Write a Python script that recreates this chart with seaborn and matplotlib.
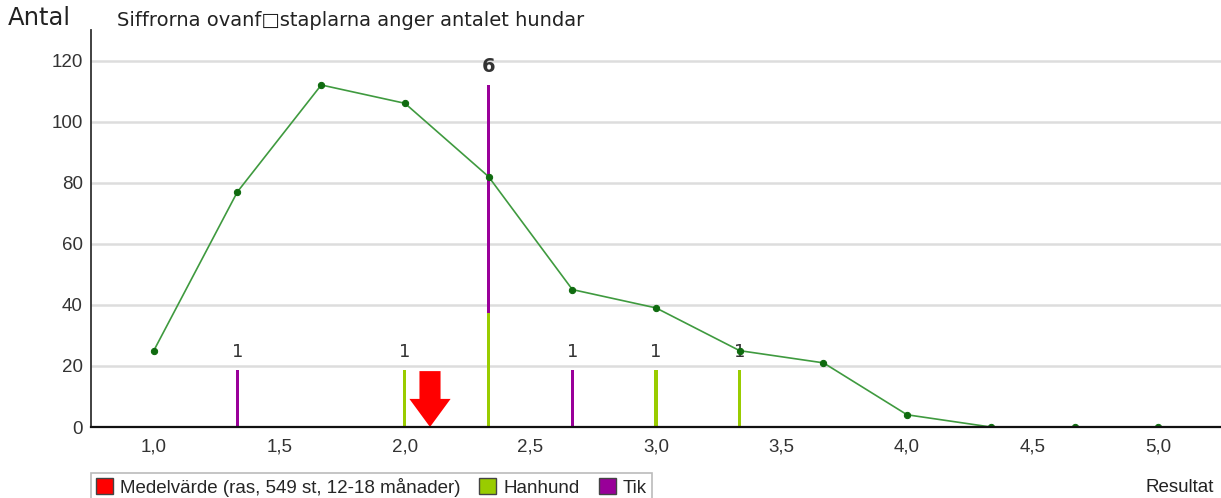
import matplotlib
matplotlib.use("Agg")
import matplotlib.pyplot as plt
from matplotlib.patches import Patch, Polygon
import pandas as pd
import seaborn as sns

# Fördelning av resultat (linje) och hundar (staplar)
resultat = [1.0, 1.333, 1.667, 2.0, 2.333, 2.667, 3.0, 3.333, 3.667, 4.0, 4.333, 4.667, 5.0]
antal = [25, 77, 112, 106, 82, 45, 39, 25, 21, 4, 0, 0, 0]

stapel_x = [1.333, 2.0, 2.333, 2.667, 3.0, 3.333]
hanhund = [0, 1, 2, 0, 1, 1]
tik = [1, 0, 4, 1, 0, 0]
medelvarde = 2.1

xticks = [1.0, 1.5, 2.0, 2.5, 3.0, 3.5, 4.0, 4.5, 5.0]
xticklabels = ["1,0", "1,5", "2,0", "2,5", "3,0", "3,5", "4,0", "4,5", "5,0"]
yticks = [0, 20, 40, 60, 80, 100, 120]

sns.set_theme(style="white")
plt.rcParams["font.family"] = ["Liberation Sans", "DejaVu Sans"]

fig = plt.figure(figsize=(12.21, 4.98), dpi=100)
ax = fig.add_axes([91 / 1221, 1 - 427 / 498, 1 - 91 / 1221, (427 - 30) / 498])

df = pd.DataFrame({"Resultat": resultat, "Antal": antal})
sns.lineplot(data=df, x="Resultat", y="Antal", ax=ax, color="#3f9a3f", linewidth=1.2,
             marker="o", markersize=4.5, markerfacecolor="#0f6b0f", markeredgecolor="#0f6b0f",
             zorder=4)

# staplar: antal hundar skalat så att 6 hundar = 112
skala = 112 / 6
han_h = [h * skala for h in hanhund]
tik_h = [t * skala for t in tik]
ax.bar(stapel_x, han_h, width=0.012, color="#99cc00", linewidth=0, zorder=3)
ax.bar(stapel_x, tik_h, width=0.012, bottom=han_h, color="#990099", linewidth=0, zorder=3)
for x, h, t in zip(stapel_x, hanhund, tik):
    n = h + t
    if n == 0:
        continue
    top = n * skala
    ax.text(x, top + 3, str(n), ha="center", va="bottom", color="#333333",
            fontsize=14 if n > 1 else 13, fontweight="bold" if n > 1 else "normal",
            family=["DejaVu Sans"])

# medelvärde pil
sw, hw, topp, hl = 0.042, 0.082, 18.3, 9.2
pil = Polygon([(medelvarde - sw, topp), (medelvarde + sw, topp), (medelvarde + sw, hl),
               (medelvarde + hw, hl), (medelvarde, 0), (medelvarde - hw, hl),
               (medelvarde - sw, hl)], closed=True, facecolor="#ff0000", edgecolor="none",
              zorder=5)
ax.add_patch(pil)

ax.set_xlim(0.75, 5.25)
ax.set_ylim(0, 130)
ax.set_xticks(xticks)
ax.set_xticklabels(xticklabels)
ax.set_yticks(yticks)
ax.tick_params(axis="x", direction="in", length=4, width=1, color="#222222", labelsize=13.5, pad=8)
ax.tick_params(axis="y", length=0, labelsize=13.5, pad=6)
for lab in ax.get_xticklabels() + ax.get_yticklabels():
    lab.set_color("#333333")
for y in yticks[1:]:
    ax.axhline(y, color="#dddddd", linewidth=1.8, zorder=1)
ax.set_xlabel("")
ax.set_ylabel("")
for s in ["top", "right"]:
    ax.spines[s].set_visible(False)
ax.spines["left"].set_color("#333333")
ax.spines["left"].set_linewidth(1.3)
ax.spines["bottom"].set_color("#111111")
ax.spines["bottom"].set_linewidth(1.6)
ax.spines["left"].set_zorder(6)
ax.spines["bottom"].set_zorder(6)

fig.text(8 / 1221, 1 - 18 / 498, "Antal", fontsize=17.5, color="#222222", va="center",
         family=["DejaVu Sans"])
fig.text(117 / 1221, 1 - 20 / 498, "Siffrorna ovanf\u25a1staplarna anger antalet hundar",
         fontsize=14, color="#222222", va="center", family=["DejaVu Sans"])
fig.text(1180 / 1221, 1 - 487 / 498, "Resultat", fontsize=13.5, color="#222222",
         ha="center", va="center")

handles = [Patch(facecolor="#ff0000", edgecolor="#444444", label="Medelvärde (ras, 549 st, 12-18 månader)"),
           Patch(facecolor="#99cc00", edgecolor="#444444", label="Hanhund"),
           Patch(facecolor="#990099", edgecolor="#444444", label="Tik")]
leg = fig.legend(handles=handles, ncol=3, loc="upper left", bbox_to_anchor=(91 / 1221, 1 - 473 / 498),
                 fontsize=13.5, frameon=True, fancybox=False, handlelength=0.9, handleheight=0.9,
                 handletextpad=0.4, columnspacing=1.0, borderpad=0.25, borderaxespad=0)
leg.get_frame().set_edgecolor("#aaaaaa")
leg.get_frame().set_linewidth(1.2)

fig.savefig("out.png", dpi=100)
